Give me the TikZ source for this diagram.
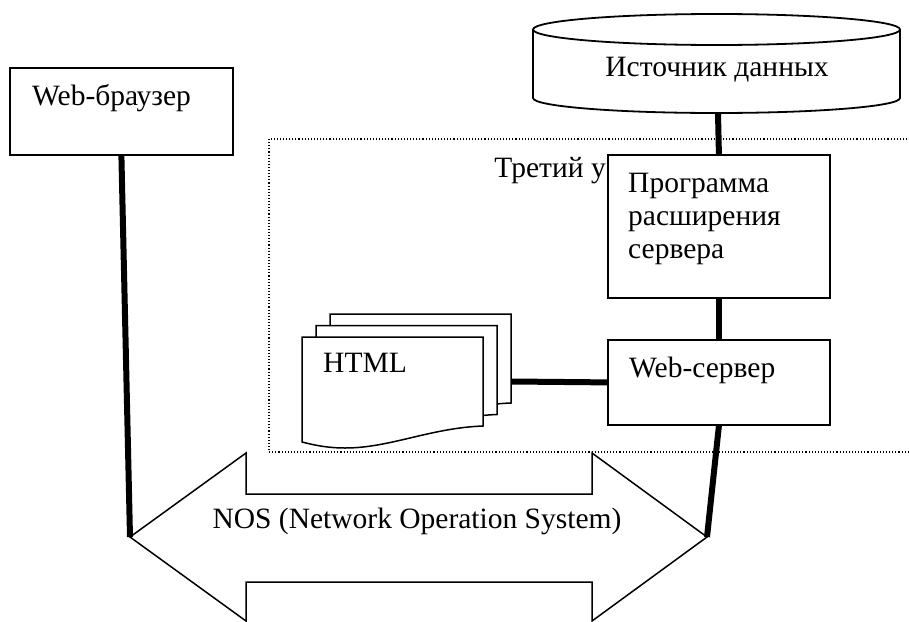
\documentclass[tikz,border=0pt]{standalone}
\usepackage{fontspec}
\setmainfont{Liberation Serif}
\begin{document}
\begin{tikzpicture}[x=1pt,y=-1pt,
  every node/.style={inner sep=0pt, font=\fontsize{29.5}{33}\selectfont},
  box/.style={draw, line width=1.8pt, fill=white, anchor=north west},
  link/.style={line width=6pt},
  outline/.style={draw, line width=1.5pt, fill=white},
  txt/.style={anchor=base west}]
\useasboundingbox (0,0) rectangle (909,621);
\clip (0,0) rectangle (909,621);

% third tier frame (runs past the right edge)
\draw[dotted, line width=1.1pt] (269,139) rectangle (940,452);
\node[anchor=base east] (tier) at (606,177) {Третий у};

% data source cylinder
\draw[line width=1.8pt, fill=white] (533,29.5) -- (533,98)
  arc[start angle=180, end angle=0, x radius=183.5, y radius=15] -- (900,29.5);
\draw[line width=1.8pt] (716.5,29.5) ellipse[x radius=183.5, y radius=15.5];
\node[anchor=base] (db) at (717,76) {Источник данных};
\coordinate (dbfoot) at (718,113);

% network double arrow
\draw[outline] (130,537) -- (246,453) -- (246,494) -- (592,494) -- (592,453)
  -- (707,537) -- (592,621) -- (592,582) -- (246,582) -- (246,621) -- cycle;
\coordinate (nosL) at (130,537);
\coordinate (nosR) at (707,537);
\node[anchor=base] (nos) at (417,528) {NOS (Network Operation System)};

% stack of HTML pages
\foreach \dx/\dy in {28/-23, 14/-11.5, 0/0}{
  \draw[outline, shift={(\dx,\dy)}] (302,337) -- (483,337) -- (483,426)
    .. controls (430,428) and (390,448) .. (345,448)
    .. controls (325,448) and (310,444) .. (302,442) -- cycle;
}
\node[txt] (html) at (323,372) {HTML};
\coordinate (docs) at (512,381.5);

% boxes
\node[box, minimum width=223, minimum height=87] (browser) at (9,67) {};
\node[txt] (browsertext) at (32,105) {Web-браузер};
\node[box, minimum width=222, minimum height=143] (ext) at (607,154) {};
\node[anchor=north west, align=left] (exttext) at (628,173) {Программа\\расширения\\сервера};
\node[box, minimum width=222, minimum height=85] (websrv) at (607,339) {};
\node[txt] (websrvtext) at (629,377) {Web-сервер};

% connectors
\draw[link] (dbfoot) -- (ext.north);
\draw[link] (ext.south) -- (websrv.north);
\draw[link] (docs) -- (websrv.west);
\draw[link] (websrv.south) -- (nosR);
\draw[link] (browser.south) -- (nosL);
\end{tikzpicture}
\end{document}
